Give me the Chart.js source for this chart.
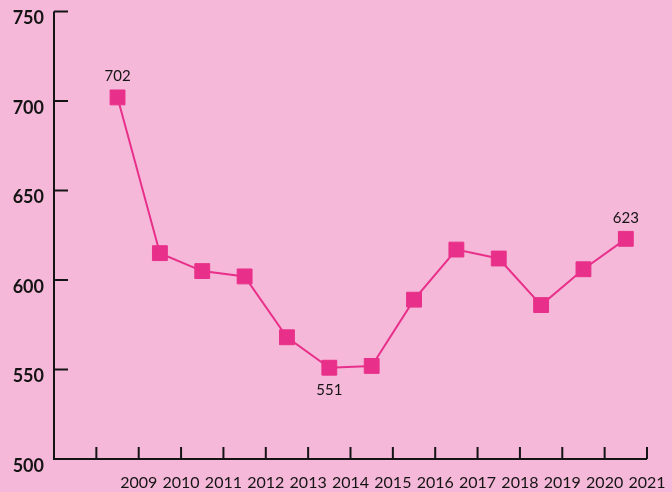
<!DOCTYPE html>
<html lang="en">
<head>
  <meta charset="UTF-8">
  <title>Yearly values 2009-2021</title>
  <style>
    html, body {
      margin: 0;
      padding: 0;
      background-color: #f6b8d9;
    }
    #wrap {
      width: 672px;
      height: 492px;
    }
  </style>
</head>
<body>
  <div id="wrap"><canvas id="chart"></canvas></div>

  <script src="https://cdn.jsdelivr.net/npm/chart.js"></script>
  <script>
    // Data
    const years = [2009, 2010, 2011, 2012, 2013, 2014, 2015, 2016, 2017, 2018, 2019, 2020, 2021];
    const values = [702, 615, 605, 602, 568, 551, 552, 589, 617, 612, 586, 606, 623];
    const yTicks = [500, 550, 600, 650, 700, 750];
    const labelledYears = [2009, 2014, 2021]; // values written next to the markers

    const pink = "#e8308a";
    const ink = "#141414";

    // points sit half a band left of their year label
    const firstYear = years[0];
    const points = years.map((y, i) => ({ x: y - firstYear + 1.5, y: values[i] }));

    // axis lines + inward ticks
    const axesPlugin = {
      id: "axes",
      afterDraw(chart) {
        const { ctx, scales } = chart;
        const xs = scales.x, ys = scales.y;
        const left = xs.getPixelForValue(0);
        const right = xs.getPixelForValue(14);
        const bottom = ys.getPixelForValue(500);
        const top = ys.getPixelForValue(750);
        ctx.save();
        ctx.strokeStyle = ink;
        ctx.lineWidth = 2;
        ctx.beginPath();
        ctx.moveTo(left, top);
        ctx.lineTo(left, bottom);
        ctx.lineTo(right, bottom);
        yTicks.forEach(v => {
          const py = ys.getPixelForValue(v);
          ctx.moveTo(left, py);
          ctx.lineTo(left + 14, py);
        });
        for (let k = 1; k <= 14; k++) {
          const px = xs.getPixelForValue(k);
          ctx.moveTo(px, bottom);
          ctx.lineTo(px, bottom - 12);
        }
        ctx.stroke();

        // value labels
        ctx.fillStyle = ink;
        ctx.font = "15px Lato";
        ctx.textAlign = "center";
        ctx.textBaseline = "middle";
        const meta = chart.getDatasetMeta(0);
        labelledYears.forEach(yr => {
          const i = years.indexOf(yr);
          const el = meta.data[i];
          const below = values[i] < values[i - 1] && values[i] < values[i + 1];
          ctx.fillText(String(values[i]), el.x, below ? el.y + 22 : el.y - 21);
        });
        ctx.restore();
      }
    };

    new Chart(document.getElementById("chart"), {
      type: "line",
      data: {
        datasets: [{
          data: points,
          borderColor: pink,
          backgroundColor: pink,
          borderWidth: 2,
          pointStyle: "rect",
          pointRadius: 10.5,
          pointHoverRadius: 10.5,
          pointBorderWidth: 1,
          pointBorderColor: pink,
          pointBackgroundColor: pink,
          tension: 0
        }]
      },
      options: {
        responsive: true,
        maintainAspectRatio: false,
        animation: false,
        layout: { padding: { top: 9, right: 25, left: 0, bottom: 0 } },
        plugins: {
          legend: { display: false },
          tooltip: { enabled: false }
        },
        scales: {
          x: {
            type: "linear",
            min: 0,
            max: 14,
            afterFit(scale) {
              scale.height = 33;
              scale.paddingLeft = 0;
              scale.paddingRight = 0;
            },
            afterBuildTicks(scale) {
              scale.ticks = [];
              for (let k = 0; k <= 14; k++) scale.ticks.push({ value: k });
            },
            grid: { display: false, drawTicks: false },
            border: { display: false },
            ticks: {
              padding: 14,
              color: ink,
              font: { family: "Lato", size: 16 },
              maxRotation: 0,
              autoSkip: false,
              callback: v => (v >= 2 ? String(firstYear - 2 + v) : "")
            }
          },
          y: {
            min: 500,
            max: 750,
            afterFit(scale) {
              scale.width = 54;
              scale.paddingTop = 0;
              scale.paddingBottom = 0;
            },
            afterBuildTicks(scale) {
              scale.ticks = yTicks.map(v => ({ value: v }));
            },
            grid: { display: false, drawTicks: false },
            border: { display: false },
            ticks: {
              padding: 10,
              labelOffset: 7,
              color: ink,
              font: { family: "Lato", size: 18, weight: "bold" }
            }
          }
        }
      },
      plugins: [axesPlugin]
    });
  </script>
</body>
</html>
